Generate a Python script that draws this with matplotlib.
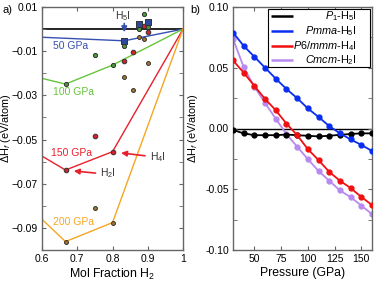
import matplotlib
matplotlib.use("Agg")
import matplotlib.pyplot as plt
from matplotlib.patches import Rectangle
import numpy as np

plt.rcParams['font.family'] = ['Liberation Sans', 'DejaVu Sans']
plt.rcParams['mathtext.fontset'] = 'custom'
plt.rcParams['mathtext.rm'] = 'Liberation Sans'
plt.rcParams['mathtext.it'] = 'Liberation Sans:italic'

# ---- panel a: convex hulls ----
hull_x = {
    '50': [0.6, 0.8333, 1.0],
    '100': [0.6, 0.6667, 0.8, 1.0],
    '150': [0.6, 0.6667, 0.8, 1.0],
    '200': [0.6, 0.6667, 0.8, 1.0],
}
hull_y = {
    '50': [-0.0037, -0.0053, 0.0],
    '100': [-0.0223, -0.0249, -0.0163, 0.0],
    '150': [-0.0575, -0.0638, -0.0555, 0.0],
    '200': [-0.0861, -0.0962, -0.0876, 0.0],
}
# computed structures
pts50_x = [0.8333, 0.875, 0.9]
pts50_y = [-0.0053, 0.0023, 0.0034]
pts100_x = [0.6667, 0.75, 0.8, 0.8333, 0.875, 0.8889, 0.9]
pts100_y = [-0.0249, -0.0117, -0.0163, -0.0075, -0.0001, 0.0068, 0.0011]
pts150_x = [0.6667, 0.75, 0.8, 0.8333, 0.8571, 0.8889, 0.9]
pts150_y = [-0.0638, -0.0484, -0.0555, -0.0144, -0.0102, 0.0014, -0.0015]
pts200_x = [0.6667, 0.75, 0.8, 0.8333, 0.8571, 0.875, 0.8889, 0.9]
pts200_y = [-0.0962, -0.0809, -0.0876, -0.0218, -0.0276, -0.0037, -0.0045, -0.0155]

# ---- panel b: enthalpy vs pressure ----
pressure = [30, 40, 50, 60, 70, 80, 90, 100, 110, 120, 130, 140, 150, 160]
dh_p1_h5i = [-0.0012, -0.004, -0.0055, -0.0055, -0.0055, -0.005, -0.0055,
             -0.006, -0.0065, -0.006, -0.0052, -0.0045, -0.004, -0.004]
dh_pmma_h5i = [0.079, 0.068, 0.059, 0.050, 0.041, 0.0325, 0.025, 0.0165,
               0.0095, 0.002, -0.004, -0.009, -0.0135, -0.0185]
dh_p6mmm_h4i = [0.056, 0.046, 0.035, 0.0243, 0.015, 0.004, -0.0055, -0.017,
                -0.026, -0.0357, -0.043, -0.049, -0.0563, -0.063]
dh_cmcm_h2i = [0.0738, 0.0505, 0.0344, 0.021, 0.008, -0.0045, -0.015, -0.0252,
               -0.035, -0.043, -0.051, -0.0565, -0.0634, -0.0705]
series_labels = ['$P_1$-H$_5$I', '$Pmma$-H$_5$I', '$P6/mmm$-H$_4$I', '$Cmcm$-H$_2$I']
series_colors = ['black', '#0a2ef0', '#f01010', '#b88af0']

c_blue_a = '#3550b0'
c_green_a = '#66c43a'
c_red_a = '#e8202c'
c_orange_a = '#f5a623'
spine_c = '#666666'
fs = 7.5
fs_lab = 8.8

fig = plt.figure(figsize=(3.74, 2.81), dpi=100)
ax1 = fig.add_axes([42/374, 31/281, 141/374, 243/281])
ax2 = fig.add_axes([233/374, 31/281, 139/374, 243/281])

# panel a
ax1.axhline(0, color='black', lw=1.2, zorder=1)
ax1.plot(hull_x['50'], hull_y['50'], color=c_blue_a, lw=1, zorder=2)
ax1.plot(hull_x['100'], hull_y['100'], color=c_green_a, lw=1, zorder=2)
ax1.plot(hull_x['150'], hull_y['150'], color=c_red_a, lw=1, zorder=2)
ax1.plot(hull_x['200'], hull_y['200'], color=c_orange_a, lw=1, zorder=2)
ax1.scatter(pts200_x, pts200_y, s=8, color='#a8742c', edgecolors='#333333', linewidths=0.7, zorder=3)
ax1.scatter(pts150_x, pts150_y, s=11, color='#d4202c', edgecolors='#333333', linewidths=0.7, zorder=3)
ax1.scatter(pts100_x, pts100_y, s=9, color='#4a9a3a', edgecolors='#333333', linewidths=0.7, zorder=3)
ax1.scatter(pts50_x, pts50_y, s=13, marker='s', color='#2c4a9c', edgecolors='#333333', linewidths=0.7, zorder=4)

ax1.text(0.632, -0.0077, '50 GPa', color=c_blue_a, fontsize=fs, va='center')
ax1.text(0.632, -0.0285, '100 GPa', color=c_green_a, fontsize=fs, va='center')
ax1.text(0.625, -0.0561, '150 GPa', color=c_red_a, fontsize=fs, va='center')
ax1.text(0.632, -0.0872, '200 GPa', color=c_orange_a, fontsize=fs, va='center')

ax1.annotate('', xy=(0.8333, -0.0027), xytext=(0.8333, 0.0038),
             arrowprops=dict(arrowstyle='-|>', color=c_blue_a, lw=1.2, mutation_scale=8))
ax1.text(0.83, 0.0059, 'H$_5$I', fontsize=fs, ha='center', va='center', color='#333333')
ax1.annotate('', xy=(0.8165, -0.0559), xytext=(0.9, -0.0575),
             arrowprops=dict(arrowstyle='-|>', color=c_red_a, lw=1.2, mutation_scale=8))
ax1.text(0.906, -0.0578, 'H$_4$I', fontsize=fs, ha='left', va='center', color='#333333')
ax1.annotate('', xy=(0.6823, -0.0641), xytext=(0.7597, -0.0653),
             arrowprops=dict(arrowstyle='-|>', color=c_red_a, lw=1.2, mutation_scale=8))
ax1.text(0.7645, -0.0653, 'H$_2$I', fontsize=fs, ha='left', va='center', color='#333333')

ax1.set_xlim(0.6, 1.0)
ax1.set_ylim(-0.1, 0.01)
ax1.set_xticks([0.6, 0.7, 0.8, 0.9, 1.0])
ax1.set_xticklabels(['0.6', '0.7', '0.8', '0.9', '1'])
ax1.set_yticks([0.01, -0.01, -0.03, -0.05, -0.07, -0.09])
ax1.set_yticks(np.arange(-0.1, 0.011, 0.02), minor=True)
ax1.set_xlabel('Mol Fraction H$_2$', fontsize=fs_lab, labelpad=2)
ax1.set_ylabel(r'$\Delta$H$_f$ (eV/atom)', fontsize=7.8)
ax1.yaxis.set_label_coords(-0.205, 0.5)

# panel b
ax2.axhline(0, color='black', lw=1, zorder=1)
for vals, col, z in zip([dh_p1_h5i, dh_pmma_h5i, dh_p6mmm_h4i, dh_cmcm_h2i],
                        series_colors, [3, 3, 3, 2]):
    ax2.plot(pressure, vals, '-o', color=col, lw=1.3, ms=3.5, zorder=z)
ax2.set_xlim(30, 160)
ax2.set_ylim(-0.1, 0.1)
ax2.set_xticks([50, 75, 100, 125, 150])
ax2.set_yticks([0.10, 0.05, 0.0, -0.05, -0.10])
ax2.set_yticklabels(['0.10', '0.05', '0.00', '-0.05', '-0.10'])
ax2.set_yticks([0.075, 0.025, -0.025, -0.075], minor=True)
ax2.set_xlabel('Pressure (GPa)', fontsize=fs_lab, labelpad=2)
ax2.set_ylabel(r'$\Delta$H$_f$ (eV/atom)', fontsize=7.8)
ax2.yaxis.set_label_coords(-0.237, 0.5)

# legend box with right-aligned labels
ax2.add_patch(Rectangle((0.252, 0.753), 0.734, 0.239, transform=ax2.transAxes,
                        facecolor='white', edgecolor='black', lw=0.8, zorder=5))
row_y = [0.963, 0.901, 0.840, 0.782]
for ly, lab, col in zip(row_y, series_labels, series_colors):
    ax2.plot([0.273, 0.432], [ly, ly], color=col, lw=1.8, transform=ax2.transAxes,
             zorder=6, solid_capstyle='butt')
    ax2.text(0.892, ly, lab, fontsize=7.8, ha='right', va='center',
             transform=ax2.transAxes, zorder=6)

for ax in (ax1, ax2):
    ax.tick_params(which='both', direction='in', top=True, right=True,
                   labelsize=fs, color=spine_c, pad=3)
    ax.tick_params(which='major', length=3)
    ax.tick_params(which='minor', length=3)
    for s in ax.spines.values():
        s.set_color(spine_c)
        s.set_linewidth(1)

fig.text(0.008, 0.965, 'a)', fontsize=8, va='center')
fig.text(0.51, 0.965, 'b)', fontsize=8, va='center')

fig.savefig('out.png', dpi=100)
